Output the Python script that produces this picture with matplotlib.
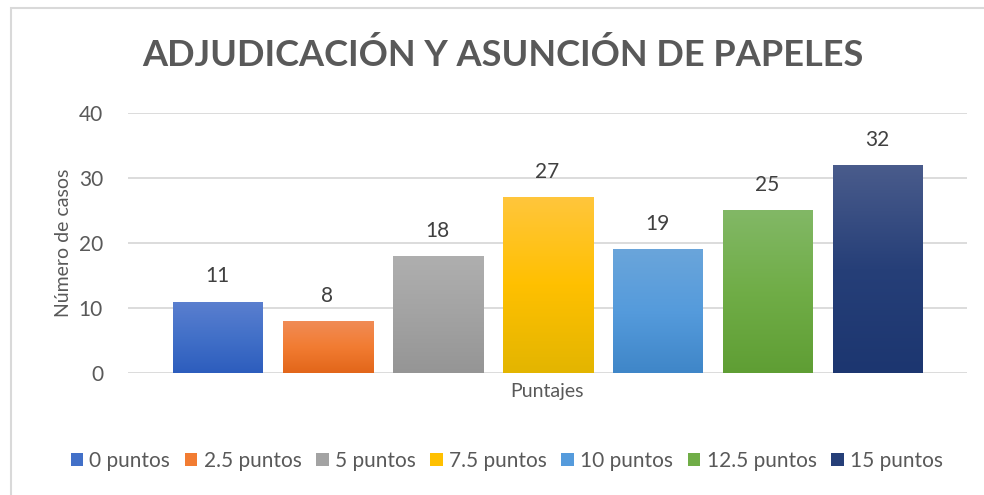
import numpy as np
import matplotlib.pyplot as plt
from matplotlib.colors import LinearSegmentedColormap
from matplotlib.patches import Rectangle, Patch

series = ["0 puntos", "2.5 puntos", "5 puntos", "7.5 puntos", "10 puntos", "12.5 puntos", "15 puntos"]
values = [11, 8, 18, 27, 19, 25, 32]
category = "Puntajes"
yticks = [0, 10, 20, 30, 40]
# (top, middle, bottom) gradient colours per series
grads = [
    ("#5b7fcf", "#4270c8", "#2d5dbd"),
    ("#f08c57", "#f27c32", "#e2661a"),
    ("#afafaf", "#a3a3a3", "#959595"),
    ("#ffc63c", "#ffc000", "#e3b500"),
    ("#6aa5da", "#559bdc", "#3f86c8"),
    ("#82b866", "#70ad47", "#5f9e34"),
    ("#4a5c8c", "#263f78", "#1c3670"),
]

plt.rcParams['font.family'] = ['Lato', 'DejaVu Sans']
grey = "#595959"

fig = plt.figure(figsize=(9.84, 4.95), dpi=100)
fig.patches.append(Rectangle((11 / 984, -0.1), 1.2, 1 - 8 / 495 + 0.1, transform=fig.transFigure,
                             fill=False, edgecolor="#d9d9d9", linewidth=1.5))
ax = fig.add_axes([128 / 984, 1 - 373 / 495, (967 - 128) / 984, (373 - 113) / 495])

width = 90 / 110
x = np.arange(len(values))
handles = []
for i, (v, g) in enumerate(zip(values, grads)):
    bar = ax.bar(x[i], v, width=width, color="none", zorder=3)[0]
    cmap = LinearSegmentedColormap.from_list("g%d" % i, [g[2], g[1], g[0]])
    grad = np.linspace(0, 1, 256).reshape(-1, 1)
    im = ax.imshow(grad, cmap=cmap, origin="lower", aspect="auto", zorder=3,
                   extent=[x[i] - width / 2, x[i] + width / 2, 0, v])
    im.set_clip_path(bar)
    ax.annotate(str(v), (x[i], v), xytext=(0, 11), textcoords="offset points",
                ha="center", va="bottom", fontsize=15, color="#404040")
    handles.append(Patch(facecolor=g[1], label=series[i]))

ax.set_xlim(3 - 839 / 220, 3 + 839 / 220)
ax.set_ylim(0, 40)
ax.set_yticks(yticks)
ax.set_xticks([])
ax.tick_params(axis="y", length=0, labelsize=15, labelcolor=grey, pad=18)
ax.yaxis.grid(True, color="#d9d9d9", linewidth=1.3, zorder=0)
ax.set_axisbelow(True)
for s in ax.spines.values():
    s.set_visible(False)
ax.set_ylabel("Número de casos", fontsize=14, color=grey, labelpad=5)
ax.set_xlabel(category, fontsize=14, color=grey, labelpad=7)

fig.text(0.511, 1 - 55 / 495, "ADJUDICACIÓN Y ASUNCIÓN DE PAPELES", ha="center", va="center",
         fontsize=26, fontweight="bold", color=grey)
fig.legend(handles=handles, loc="center", bbox_to_anchor=(0.515, 1 - 461 / 495), ncol=7,
           frameon=False, fontsize=15, labelcolor=grey, handlelength=0.6, handleheight=0.6,
           handletextpad=0.3, columnspacing=0.7)

fig.savefig("out.png", dpi=100)
